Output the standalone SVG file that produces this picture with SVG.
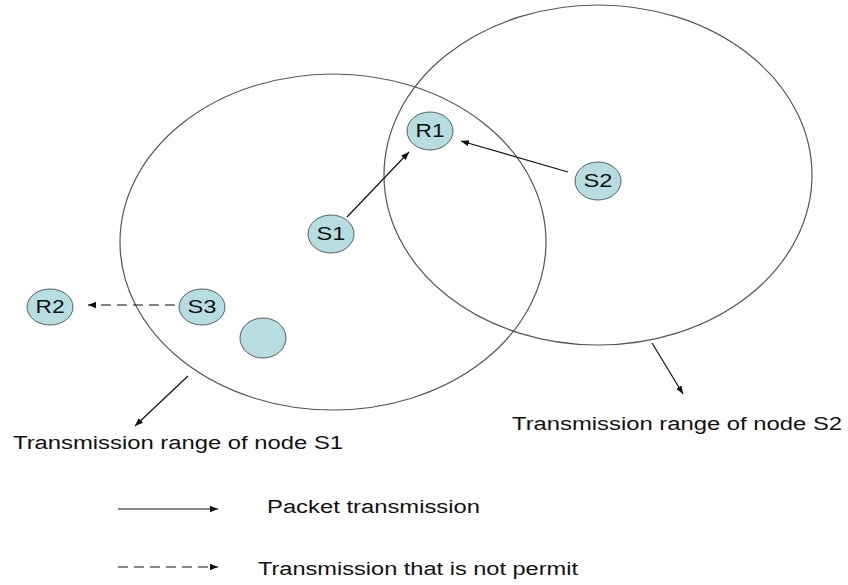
<svg xmlns="http://www.w3.org/2000/svg" width="848" height="585" viewBox="0 0 848 585">
<defs>
<style>
.range{fill:none;stroke:#555;stroke-width:1.2}
.node{fill:#b7dde0;stroke:#4f6060;stroke-width:1}
.lbl{font-family:"Liberation Sans",Arial,sans-serif;font-size:18px;fill:#111;text-anchor:middle}
.txt{font-family:"Liberation Sans",Arial,sans-serif;font-size:18px;fill:#111}
.arr{stroke:#111;stroke-width:1.2;fill:none;marker-end:url(#ah)}
.dash{stroke-dasharray:10 6}
</style>
<marker id="ah" markerUnits="userSpaceOnUse" markerWidth="9" markerHeight="8" refX="8" refY="4" orient="auto">
<path d="M0,0.8 L8,4 L0,7.2 Z" fill="#111"/>
</marker>
</defs>
<rect width="848" height="585" fill="#fff"/>
<g id="ranges">
<ellipse class="range" cx="333" cy="242" rx="213" ry="168"/>
<ellipse class="range" cx="598" cy="175" rx="214" ry="170"/>
</g>
<g id="connectors">
<line class="arr" x1="347" y1="217" x2="409" y2="152"/>
<line class="arr" x1="568" y1="172" x2="461" y2="141"/>
<line class="arr dash" x1="175" y1="305" x2="88" y2="305"/>
<line class="arr" x1="188" y1="376" x2="135" y2="426"/>
<line class="arr" x1="652" y1="343" x2="683" y2="394"/>
<line class="arr" x1="118" y1="509" x2="218" y2="509"/>
<line class="arr dash" x1="118" y1="567" x2="218" y2="567"/>
</g>
<g id="R1"><ellipse class="node" cx="430" cy="131" rx="23" ry="19"/><text class="lbl" x="430" y="137" textLength="29" lengthAdjust="spacingAndGlyphs">R1</text></g>
<g id="S2"><ellipse class="node" cx="598" cy="181" rx="23" ry="19"/><text class="lbl" x="598" y="187" textLength="29" lengthAdjust="spacingAndGlyphs">S2</text></g>
<g id="S1"><ellipse class="node" cx="331" cy="234" rx="23" ry="19"/><text class="lbl" x="331" y="240" textLength="29" lengthAdjust="spacingAndGlyphs">S1</text></g>
<g id="S3"><ellipse class="node" cx="202" cy="307" rx="23" ry="18"/><text class="lbl" x="202" y="313" textLength="29" lengthAdjust="spacingAndGlyphs">S3</text></g>
<g id="R2"><ellipse class="node" cx="50" cy="307" rx="23" ry="18"/><text class="lbl" x="50" y="313" textLength="29" lengthAdjust="spacingAndGlyphs">R2</text></g>
<g id="N0"><ellipse class="node" cx="263" cy="338" rx="23" ry="20"/></g>
<g id="labels">
<text class="txt" x="13" y="449" textLength="330" lengthAdjust="spacingAndGlyphs">Transmission range of node S1</text>
<text class="txt" x="512" y="430" textLength="330" lengthAdjust="spacingAndGlyphs">Transmission range of node S2</text>
<text class="txt" x="267" y="513" textLength="213" lengthAdjust="spacingAndGlyphs">Packet transmission</text>
<text class="txt" x="258" y="575" textLength="320" lengthAdjust="spacingAndGlyphs">Transmission that is not permit</text>
</g>
</svg>
